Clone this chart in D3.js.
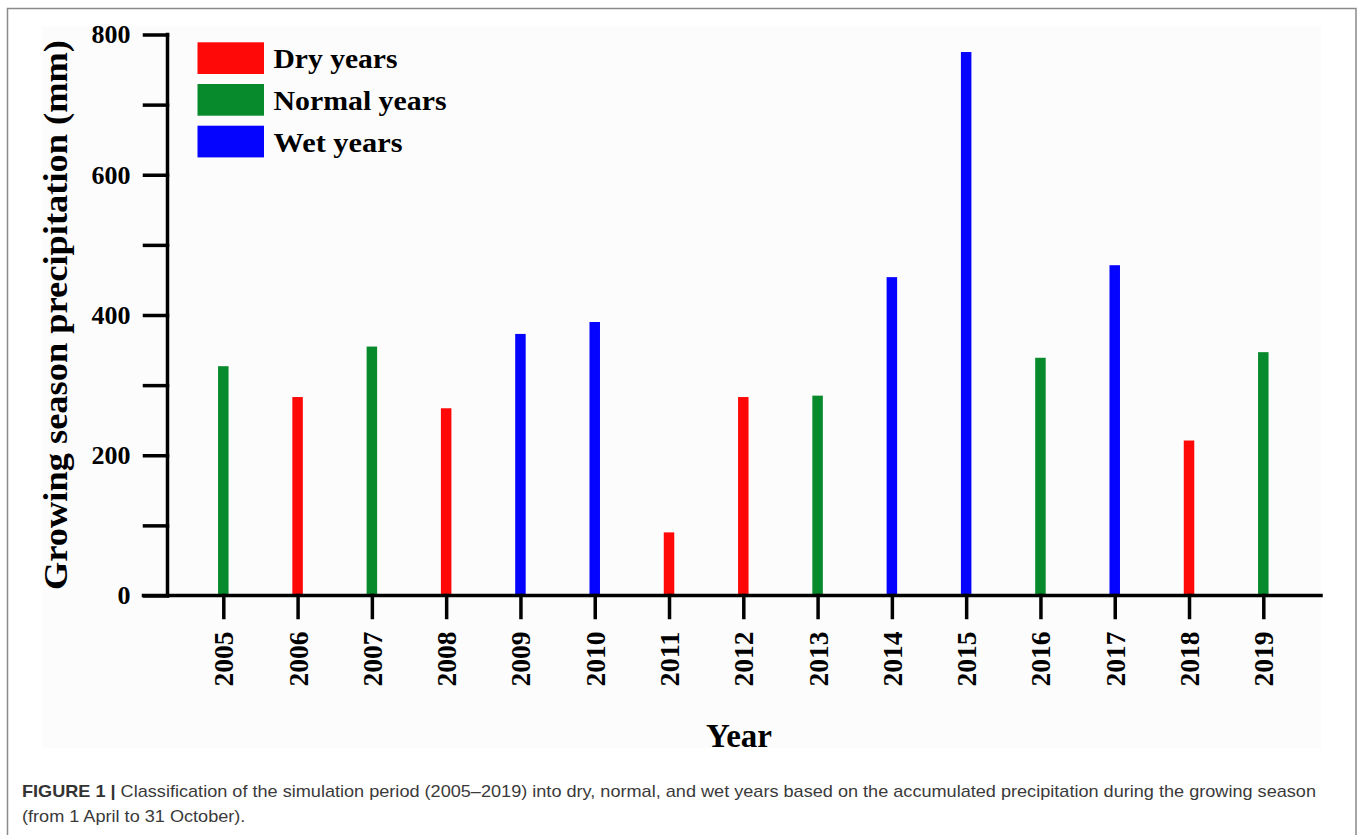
<!DOCTYPE html>
<html>
<head>
<meta charset="utf-8">
<script src="https://cdn.jsdelivr.net/npm/d3@7"></script>
<style>
  html, body { margin: 0; padding: 0; background: #ffffff; }
  svg { display: block; }
</style>
</head>
<body>
<svg id="chart" width="1358" height="835"></svg>
<script>
// Growing-season precipitation (mm), 1 April – 31 October, by year
const years = ["2005","2006","2007","2008","2009","2010","2011","2012","2013","2014","2015","2016","2017","2018","2019"];
const precipitation = [327, 283, 355, 267, 373, 390, 90, 283, 285, 454, 775, 339, 471, 221, 347];
const yearClass = ["Normal","Dry","Normal","Dry","Wet","Wet","Dry","Dry","Normal","Wet","Wet","Normal","Wet","Dry","Normal"];

const classes = ["Dry", "Normal", "Wet"];
const classLabels = ["Dry years", "Normal years", "Wet years"];
const classColors = ["#ff0808", "#078a2b", "#0505ff"];

const yTicks = [0, 100, 200, 300, 400, 500, 600, 700, 800];
const yTickLabels = ["0", "", "200", "", "400", "", "600", "", "800"];

const captionBold = "FIGURE 1 | ";
const captionLine1 = "Classification of the simulation period (2005\u20132019) into dry, normal, and wet years based on the accumulated precipitation during the growing season";
const captionLine2 = "(from 1 April to 31 October).";

const svg = d3.select("#chart");
const serif = "'Liberation Serif', 'Times New Roman', serif";
const sans = "'Liberation Sans', Arial, sans-serif";

// outer frame and plotting panel
svg.append("rect").attr("x", 7.5).attr("y", 8.5).attr("width", 1348.5).attr("height", 840)
  .attr("fill", "none").attr("stroke", "#8a8a8a").attr("stroke-width", 1.5);
svg.append("rect").attr("x", 42).attr("y", 26).attr("width", 1279).attr("height", 722)
  .attr("fill", "#fcfcfc");

const axisX0 = 167.5, axisX1 = 1321;
const x = d3.scalePoint().domain(years).range([223.3, 1263.3]);
const y = d3.scaleLinear().domain([0, 800]).range([595.5, 34.5]);
const color = d3.scaleOrdinal().domain(classes).range(classColors);

// bars
const barW = 10.5;
svg.append("g").selectAll("rect").data(years).join("rect")
  .attr("x", d => x(d) - barW / 2)
  .attr("y", (d, i) => y(precipitation[i]))
  .attr("width", barW)
  .attr("height", (d, i) => y(0) - y(precipitation[i]))
  .attr("fill", (d, i) => color(yearClass[i]));

// y axis
const yAxis = svg.append("g").attr("transform", `translate(${axisX0},0)`)
  .call(d3.axisLeft(y).tickValues(yTicks).tickSize(23).tickPadding(14)
    .tickFormat((d, i) => yTickLabels[i]));
yAxis.select(".domain").attr("d", `M0,${y(800)}V${y(0)}`);

// x axis
const xAxis = svg.append("g").attr("transform", `translate(0,${y(0)})`)
  .call(d3.axisBottom(x).tickSize(22).tickPadding(0));
xAxis.select(".domain").attr("d", `M${axisX0 - 24},0H${axisX1}`);

[yAxis, xAxis].forEach(g => {
  g.selectAll(".domain, .tick line").attr("stroke", "#000").attr("stroke-width", 3.5)
    .attr("stroke-linecap", "square");
  g.selectAll(".tick text").attr("fill", "#000")
    .style("font-family", serif).style("font-weight", "bold").style("font-size", "26px");
});
xAxis.selectAll(".tick text")
  .style("font-size", "27px")
  .attr("transform", "rotate(-90)")
  .attr("text-anchor", "end")
  .attr("dy", "0.35em")
  .attr("x", -36).attr("y", 0)
  .attr("textLength", 55).attr("lengthAdjust", "spacingAndGlyphs");

// axis titles
svg.append("text")
  .attr("transform", `translate(67,315) rotate(-90)`)
  .attr("text-anchor", "middle")
  .attr("textLength", 550).attr("lengthAdjust", "spacingAndGlyphs")
  .style("font-family", serif).style("font-weight", "bold").style("font-size", "34px")
  .text("Growing season precipitation (mm)");

svg.append("text")
  .attr("x", 739).attr("y", 747)
  .attr("text-anchor", "middle")
  .style("font-family", serif).style("font-weight", "bold").style("font-size", "33px")
  .text("Year");

// legend
const legendWidths = [124, 173, 129];
const legend = svg.append("g").selectAll("g").data(classes).join("g")
  .attr("transform", (d, i) => `translate(197.5,${42.3 + i * 41.7})`);
legend.append("rect").attr("width", 66.5).attr("height", 31.7)
  .attr("fill", d => color(d));
legend.append("text").attr("x", 76).attr("y", 26)
  .attr("textLength", (d, i) => legendWidths[i]).attr("lengthAdjust", "spacingAndGlyphs")
  .style("font-family", serif).style("font-weight", "bold").style("font-size", "28px")
  .text((d, i) => classLabels[i]);

// caption
const cap = svg.append("g").style("font-family", sans).style("font-size", "17px").attr("fill", "#3a3a3a");
const l1 = cap.append("text").attr("x", 22).attr("y", 797);
l1.append("tspan").style("font-weight", "bold").attr("fill", "#333").text(captionBold);
l1.append("tspan").text(captionLine1);
const w1 = l1.node().getComputedTextLength();
l1.attr("textLength", 1294).attr("lengthAdjust", "spacingAndGlyphs");
const l2 = cap.append("text").attr("x", 22).attr("y", 822).text(captionLine2);
const w2 = l2.node().getComputedTextLength();
l2.attr("textLength", w2 * 1294 / w1).attr("lengthAdjust", "spacingAndGlyphs");
</script>
</body>
</html>
